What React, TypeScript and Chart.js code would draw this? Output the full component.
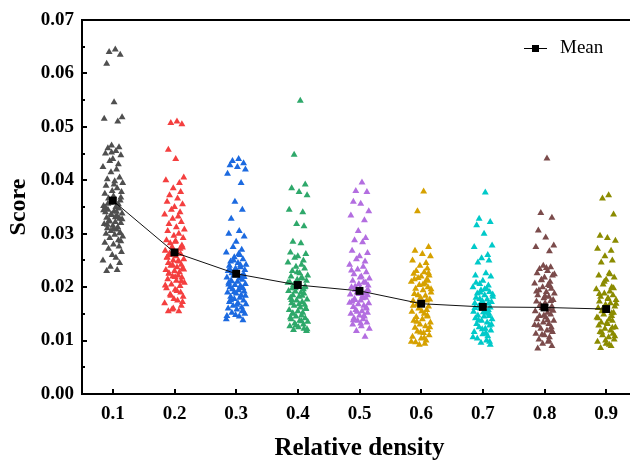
import React, { useEffect, useRef } from 'react';
import { Chart, registerables } from 'chart.js';

Chart.register(...registerables);

const categories = [0.1, 0.2, 0.3, 0.4, 0.5, 0.6, 0.7, 0.8, 0.9];
const meanValues = [0.0362, 0.0265, 0.0225, 0.0204, 0.0193, 0.0169, 0.0163, 0.0162, 0.0159];
const yTickValues = [0, 0.01, 0.02, 0.03, 0.04, 0.05, 0.06, 0.07];
const colors = ['#4f4f4f', '#f43f3f', '#1c6ae0', '#2ea86a', '#b36ee0', '#d6a100', '#00c9c9', '#7b4b4b', '#8b8b00'];

const s01 = [0.0645, 0.0640, 0.0635, 0.0618, 0.0546, 0.0518, 0.0515, 0.0510, 0.0465, 0.0462, 0.0460, 0.0455, 0.0450, 0.0447, 0.0440, 0.0436, 0.0430, 0.0425, 0.0420, 0.0415, 0.0405, 0.0402, 0.0398, 0.0395, 0.0390, 0.0385, 0.0380, 0.0378, 0.0375, 0.0370, 0.0366, 0.0362, 0.0358, 0.0355, 0.0352, 0.0350, 0.0347, 0.0345, 0.0342, 0.0340, 0.0338, 0.0335, 0.0333, 0.0330, 0.0328, 0.0325, 0.0322, 0.0320, 0.0318, 0.0315, 0.0312, 0.0310, 0.0308, 0.0305, 0.0302, 0.0300, 0.0298, 0.0295, 0.0292, 0.0288, 0.0283, 0.0280, 0.0276, 0.0272, 0.0266, 0.0260, 0.0255, 0.0250, 0.0245, 0.0238, 0.0232, 0.0230, 0.0392, 0.0368, 0.0356, 0.0349, 0.0341, 0.0336, 0.0327, 0.0317, 0.0309, 0.0301, 0.0344, 0.0331, 0.0323, 0.0286, 0.0452];
const s02 = [0.0510, 0.0507, 0.0505, 0.0457, 0.0440, 0.0405, 0.0400, 0.0395, 0.0385, 0.0378, 0.0372, 0.0366, 0.0360, 0.0355, 0.0350, 0.0345, 0.0340, 0.0336, 0.0332, 0.0328, 0.0322, 0.0318, 0.0312, 0.0308, 0.0305, 0.0300, 0.0296, 0.0292, 0.0288, 0.0285, 0.0282, 0.0278, 0.0275, 0.0272, 0.0268, 0.0265, 0.0262, 0.0260, 0.0258, 0.0255, 0.0252, 0.0250, 0.0248, 0.0245, 0.0242, 0.0240, 0.0237, 0.0235, 0.0232, 0.0230, 0.0228, 0.0225, 0.0222, 0.0220, 0.0218, 0.0215, 0.0212, 0.0208, 0.0205, 0.0202, 0.0198, 0.0195, 0.0190, 0.0186, 0.0182, 0.0178, 0.0175, 0.0170, 0.0165, 0.0158, 0.0155, 0.0155, 0.0286, 0.0274, 0.0263, 0.0256, 0.0249, 0.0241, 0.0233, 0.0226, 0.0219, 0.0211, 0.0203, 0.0193, 0.0184, 0.0172, 0.0160];
const s03 = [0.0440, 0.0436, 0.0432, 0.0428, 0.0425, 0.0420, 0.0412, 0.0395, 0.0360, 0.0345, 0.0328, 0.0305, 0.0300, 0.0295, 0.0285, 0.0275, 0.0270, 0.0265, 0.0260, 0.0256, 0.0252, 0.0248, 0.0245, 0.0242, 0.0240, 0.0237, 0.0235, 0.0232, 0.0230, 0.0228, 0.0226, 0.0224, 0.0222, 0.0220, 0.0218, 0.0216, 0.0214, 0.0212, 0.0210, 0.0208, 0.0206, 0.0204, 0.0202, 0.0200, 0.0198, 0.0196, 0.0194, 0.0192, 0.0190, 0.0188, 0.0185, 0.0182, 0.0180, 0.0178, 0.0175, 0.0172, 0.0170, 0.0168, 0.0165, 0.0162, 0.0160, 0.0158, 0.0155, 0.0152, 0.0150, 0.0148, 0.0145, 0.0140, 0.0138, 0.0250, 0.0241, 0.0233, 0.0227, 0.0219, 0.0211, 0.0205, 0.0199, 0.0191, 0.0184, 0.0176, 0.0167, 0.0156, 0.0146, 0.0262];
const s04 = [0.0549, 0.0448, 0.0392, 0.0385, 0.0378, 0.0372, 0.0345, 0.0340, 0.0318, 0.0314, 0.0285, 0.0282, 0.0265, 0.0262, 0.0258, 0.0255, 0.0250, 0.0246, 0.0242, 0.0238, 0.0235, 0.0230, 0.0226, 0.0222, 0.0220, 0.0217, 0.0214, 0.0212, 0.0209, 0.0206, 0.0204, 0.0201, 0.0198, 0.0196, 0.0193, 0.0190, 0.0188, 0.0185, 0.0182, 0.0180, 0.0177, 0.0175, 0.0172, 0.0170, 0.0167, 0.0165, 0.0162, 0.0160, 0.0157, 0.0155, 0.0152, 0.0150, 0.0147, 0.0145, 0.0142, 0.0140, 0.0137, 0.0135, 0.0132, 0.0130, 0.0127, 0.0125, 0.0122, 0.0120, 0.0118, 0.0228, 0.0216, 0.0208, 0.0200, 0.0192, 0.0184, 0.0176, 0.0168, 0.0159, 0.0151, 0.0143, 0.0136, 0.0128, 0.0121, 0.0198];
const s05 = [0.0396, 0.0380, 0.0378, 0.0360, 0.0356, 0.0342, 0.0334, 0.0325, 0.0305, 0.0292, 0.0288, 0.0284, 0.0268, 0.0264, 0.0258, 0.0252, 0.0248, 0.0242, 0.0238, 0.0233, 0.0228, 0.0224, 0.0220, 0.0216, 0.0212, 0.0209, 0.0206, 0.0203, 0.0200, 0.0198, 0.0195, 0.0193, 0.0190, 0.0188, 0.0186, 0.0183, 0.0180, 0.0178, 0.0175, 0.0173, 0.0170, 0.0168, 0.0165, 0.0163, 0.0160, 0.0157, 0.0155, 0.0152, 0.0150, 0.0147, 0.0145, 0.0142, 0.0140, 0.0137, 0.0134, 0.0130, 0.0127, 0.0122, 0.0118, 0.0107, 0.0231, 0.0218, 0.0208, 0.0201, 0.0194, 0.0187, 0.0179, 0.0171, 0.0162, 0.0154, 0.0146, 0.0138, 0.0132, 0.0185, 0.0176];
const s06 = [0.0379, 0.0342, 0.0275, 0.0268, 0.0262, 0.0258, 0.0250, 0.0245, 0.0240, 0.0235, 0.0230, 0.0228, 0.0225, 0.0222, 0.0220, 0.0217, 0.0214, 0.0210, 0.0207, 0.0204, 0.0200, 0.0197, 0.0194, 0.0190, 0.0187, 0.0184, 0.0180, 0.0177, 0.0174, 0.0170, 0.0167, 0.0164, 0.0160, 0.0157, 0.0154, 0.0150, 0.0147, 0.0144, 0.0140, 0.0137, 0.0134, 0.0130, 0.0127, 0.0124, 0.0120, 0.0117, 0.0114, 0.0110, 0.0107, 0.0104, 0.0100, 0.0097, 0.0094, 0.0092, 0.0226, 0.0215, 0.0205, 0.0196, 0.0185, 0.0175, 0.0165, 0.0155, 0.0145, 0.0135, 0.0125, 0.0115, 0.0105, 0.0098, 0.0212];
const s07 = [0.0377, 0.0328, 0.0322, 0.0316, 0.0300, 0.0278, 0.0275, 0.0260, 0.0254, 0.0250, 0.0246, 0.0226, 0.0222, 0.0220, 0.0212, 0.0206, 0.0203, 0.0200, 0.0197, 0.0194, 0.0191, 0.0188, 0.0185, 0.0182, 0.0180, 0.0177, 0.0174, 0.0172, 0.0170, 0.0167, 0.0164, 0.0162, 0.0160, 0.0157, 0.0154, 0.0152, 0.0150, 0.0147, 0.0145, 0.0142, 0.0140, 0.0137, 0.0134, 0.0131, 0.0128, 0.0125, 0.0122, 0.0119, 0.0116, 0.0112, 0.0108, 0.0104, 0.0100, 0.0096, 0.0092, 0.0208, 0.0196, 0.0186, 0.0178, 0.0169, 0.0161, 0.0153, 0.0146, 0.0138, 0.0130, 0.0121, 0.0114, 0.0106, 0.0098, 0.0190];
const s08 = [0.0441, 0.0339, 0.0330, 0.0306, 0.0293, 0.0278, 0.0275, 0.0267, 0.0240, 0.0237, 0.0234, 0.0230, 0.0226, 0.0222, 0.0218, 0.0214, 0.0210, 0.0207, 0.0204, 0.0200, 0.0197, 0.0194, 0.0191, 0.0188, 0.0185, 0.0182, 0.0179, 0.0176, 0.0173, 0.0170, 0.0167, 0.0164, 0.0161, 0.0158, 0.0155, 0.0152, 0.0149, 0.0146, 0.0143, 0.0140, 0.0137, 0.0134, 0.0131, 0.0128, 0.0125, 0.0122, 0.0119, 0.0116, 0.0113, 0.0110, 0.0106, 0.0102, 0.0098, 0.0094, 0.0090, 0.0085, 0.0236, 0.0224, 0.0213, 0.0202, 0.0192, 0.0183, 0.0174, 0.0165, 0.0156, 0.0147, 0.0138, 0.0129, 0.0120, 0.0111, 0.0100];
const s09 = [0.0372, 0.0366, 0.0336, 0.0296, 0.0292, 0.0287, 0.0272, 0.0268, 0.0258, 0.0250, 0.0246, 0.0226, 0.0222, 0.0218, 0.0214, 0.0205, 0.0200, 0.0196, 0.0192, 0.0188, 0.0185, 0.0182, 0.0179, 0.0176, 0.0173, 0.0170, 0.0167, 0.0164, 0.0161, 0.0158, 0.0155, 0.0152, 0.0149, 0.0146, 0.0143, 0.0140, 0.0137, 0.0134, 0.0131, 0.0128, 0.0125, 0.0122, 0.0119, 0.0116, 0.0113, 0.0110, 0.0106, 0.0102, 0.0098, 0.0094, 0.0090, 0.0086, 0.0224, 0.0210, 0.0198, 0.0187, 0.0178, 0.0169, 0.0160, 0.0151, 0.0142, 0.0133, 0.0124, 0.0115, 0.0108, 0.0100, 0.0092];
const seriesValues = [s01, s02, s03, s04, s05, s06, s07, s08, s09];

// horizontal jitter of each point around its category (x units)
const jitter = [0.004, -0.006, 0.012, -0.010, 0.002, 0.015, -0.014, 0.008, -0.002, 0.010, -0.008, 0.005, -0.012, 0.013, 0.000, -0.005, 0.009, -0.016, 0.006, -0.003, 0.011, -0.009, 0.003, 0.016, -0.011, 0.007, -0.001, 0.014, -0.013, 0.001, -0.007, 0.012, -0.004, 0.009, -0.015, 0.005, 0.010, -0.008, 0.002, -0.012, 0.015, -0.002, 0.007, -0.010, 0.011, -0.006, 0.004, 0.013, -0.014, 0.000, 0.008, -0.009, 0.006, -0.003, 0.012, -0.011, 0.003, 0.016, -0.005, 0.009, -0.013, 0.001, 0.010, -0.007, 0.014, -0.001, 0.005, -0.016, 0.011, -0.004, 0.007, -0.010, 0.002, 0.013, -0.008, -0.012, 0.006, -0.003, 0.015, -0.009, 0.001, 0.011, -0.015, 0.004, -0.006, 0.013, -0.002, 0.008, -0.011, 0.003, 0.010, -0.007, 0.014, -0.004, 0.006];

const FONT = "'Liberation Serif', 'Times New Roman', serif";

const framePlugin = {
  id: 'frame',
  afterDraw(chart: any) {
    const { ctx, chartArea } = chart;
    const { left, right, top, bottom } = chartArea;
    const xs = chart.scales.x;
    const ys = chart.scales.y;
    ctx.save();
    ctx.strokeStyle = '#000';
    ctx.lineWidth = 2;
    ctx.lineCap = 'butt';
    ctx.beginPath();
    yTickValues.forEach((v) => {
      const py = Math.round(ys.getPixelForValue(v));
      ctx.moveTo(left, py);
      ctx.lineTo(left + 5, py);
    });
    for (let i = 0; i < yTickValues.length - 1; i++) {
      const py = Math.round(ys.getPixelForValue((yTickValues[i] + yTickValues[i + 1]) / 2));
      ctx.moveTo(left, py);
      ctx.lineTo(left + 3, py);
    }
    categories.forEach((c) => {
      const px = Math.round(xs.getPixelForValue(c));
      ctx.moveTo(px, bottom);
      ctx.lineTo(px, bottom - 5);
    });
    ctx.stroke();
    ctx.beginPath();
    ctx.moveTo(left, top);
    ctx.lineTo(right, top);
    ctx.lineTo(right, bottom);
    ctx.lineTo(left - 1, bottom);
    ctx.moveTo(left, bottom + 1);
    ctx.lineTo(left, top - 1);
    ctx.stroke();
    // legend
    const ly = 48.5;
    ctx.lineWidth = 1;
    ctx.beginPath();
    ctx.moveTo(524, ly);
    ctx.lineTo(547, ly);
    ctx.stroke();
    ctx.fillStyle = '#000';
    ctx.fillRect(532, ly - 3.5, 7, 7);
    ctx.font = `19px ${FONT}`;
    ctx.textBaseline = 'middle';
    ctx.textAlign = 'left';
    ctx.fillText(chart.data.datasets[0].label, 560, ly);
    ctx.restore();
  },
};

export default function App() {
  const ref = useRef<HTMLCanvasElement | null>(null);
  useEffect(() => {
    if (!ref.current) return;
    const scatterSets = seriesValues.map((vals, k) => ({
      type: 'scatter' as const,
      label: categories[k].toFixed(1),
      data: vals.map((v, i) => ({ x: categories[k] + jitter[i], y: v })),
      pointStyle: 'triangle',
      pointRadius: 4,
      pointBorderWidth: 0,
      borderWidth: 0,
      backgroundColor: colors[k],
      pointBackgroundColor: colors[k],
      order: 2,
    }));
    const chart = new Chart(ref.current, {
      type: 'scatter',
      data: {
        datasets: [
          {
            type: 'line',
            label: 'Mean',
            data: categories.map((c, i) => ({ x: c, y: meanValues[i] })),
            borderColor: '#111',
            borderWidth: 1,
            pointStyle: 'rect',
            pointRadius: 5.6,
            pointBackgroundColor: '#000',
            pointBorderWidth: 0,
            backgroundColor: '#000',
            tension: 0,
            fill: false,
            order: 0,
          } as any,
          ...scatterSets,
        ],
      },
      plugins: [framePlugin],
      options: {
        responsive: false,
        animation: false,
        devicePixelRatio: 1,
        layout: { padding: { top: 20, right: 23, left: 0, bottom: 0 } },
        plugins: { legend: { display: false }, tooltip: { enabled: false } },
        scales: {
          x: {
            type: 'linear',
            min: 0.05,
            max: 0.95,
            afterBuildTicks: (scale: any) => {
              scale.ticks = categories.map((v) => ({ value: v }));
            },
            afterFit: (scale: any) => {
              scale.height = 66;
            },
            grid: { display: false, drawTicks: false },
            border: { display: false },
            ticks: {
              padding: 9,
              color: '#000',
              font: { family: FONT, size: 19, weight: 'bold', lineHeight: 1.2 },
              callback: (v: any) => Number(v).toFixed(1),
              maxRotation: 0,
              autoSkip: false,
            },
            title: {
              display: true,
              text: 'Relative density',
              color: '#000',
              font: { family: FONT, size: 25, weight: 'bold', lineHeight: 0.9 },
              padding: { top: 0, bottom: 0 },
            },
          },
          y: {
            type: 'linear',
            min: 0,
            max: 0.07,
            afterBuildTicks: (scale: any) => {
              scale.ticks = yTickValues.map((v) => ({ value: v }));
            },
            afterFit: (scale: any) => {
              scale.width = 82;
            },
            grid: { display: false, drawTicks: false },
            border: { display: false },
            ticks: {
              padding: 8,
              color: '#000',
              font: { family: FONT, size: 19, weight: 'bold', lineHeight: 1.2 },
              callback: (v: any) => Number(v).toFixed(2),
            },
            title: {
              display: true,
              text: 'Score',
              color: '#000',
              font: { family: FONT, size: 24, weight: 'bold', lineHeight: 1 },
              padding: { top: 7, bottom: 0 },
            },
          },
        },
      } as any,
    });
    return () => chart.destroy();
  }, []);
  return (
    <div
      style={{
        position: 'fixed',
        left: 0,
        top: 0,
        width: 630,
        height: 460,
        overflow: 'hidden',
        background: '#fff',
      }}
    >
      <canvas ref={ref} width={660} height={460} style={{ display: 'block' }} />
    </div>
  );
}
